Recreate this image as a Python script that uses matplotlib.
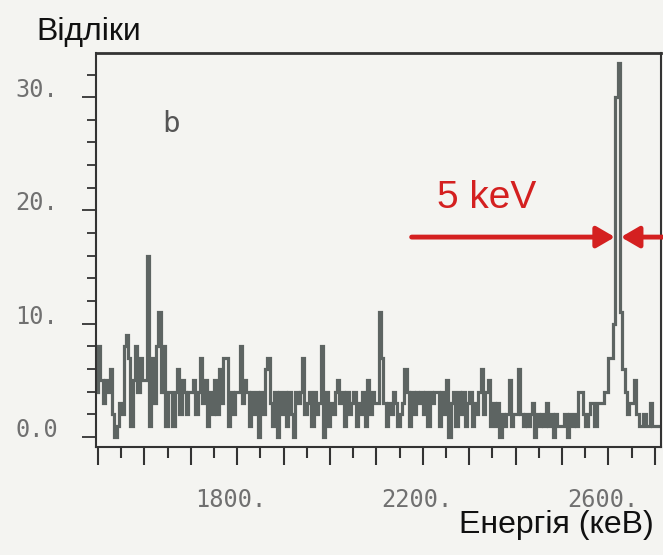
import numpy as np
import matplotlib
matplotlib.use("Agg")
import matplotlib.pyplot as plt
from matplotlib.patches import FancyArrowPatch

# ---------------- data ----------------
bin_start_keV = 1495
bin_width_keV = 5
counts = [
    4, 8, 5, 3, 5, 4, 6, 2, 0, 1, 3,        # 1495-1545
    2, 8, 9, 7, 1, 5, 8, 4, 7, 5,           # 1550-1595
    5, 16, 1, 7, 3, 8, 11, 4, 8, 1,         # 1600-1645
    4, 4, 1, 4, 6, 2, 5, 4, 2, 4,           # 1650-1695
    4, 5, 2, 4, 7, 3, 5, 1, 4, 2,           # 1700-1745
    5, 2, 6, 3, 7, 7, 1, 4, 2, 4,           # 1750-1795
    4, 8, 3, 5, 4, 1, 4, 2, 4, 0,           # 1800-1845
    4, 2, 6, 7, 3, 1, 4, 0, 4, 2,           # 1850-1895
    4, 1, 4, 2, 0, 4, 3, 4, 7, 2,           # 1900-1945
    3, 4, 1, 4, 2, 3, 8, 0, 4, 1,           # 1950-1995
    3, 2, 4, 5, 3, 4, 1, 4, 2, 3,           # 2000-2045
    4, 1, 3, 2, 4, 1, 5, 2, 4, 3,           # 2050-2095
    3, 11, 7, 3, 1, 3, 2, 4, 3, 1,          # 2100-2145
    2, 3, 6, 4, 1, 4, 2, 4, 3, 4,           # 2150-2195
    2, 4, 1, 4, 3, 4, 4, 1, 4, 2,           # 2200-2245
    5, 0, 3, 4, 1, 4, 2, 4, 1, 3,           # 2250-2295
    4, 1, 3, 2, 4, 6, 2, 4, 5, 1,           # 2300-2345
    3, 1, 3, 0, 2, 1, 2, 5, 1, 2,           # 2350-2395
    2, 6, 2, 1, 2, 1, 2, 3, 0, 2,           # 2400-2445
    1, 2, 1, 3, 1, 2, 0, 2, 1, 1,           # 2450-2495
    1, 2, 0, 2, 1, 2, 1, 4, 4, 2,           # 2500-2545
    1, 2, 3, 3, 1, 3, 3, 3, 4, 4,           # 2550-2595
    7, 7, 10, 30, 33, 11, 6, 4, 2, 3,       # 2600-2645
    3, 5, 2, 1, 1, 2, 1, 1, 3, 1,           # 2650-2695
    1, 1, 1,                                # 2700-2710
]
x_major = [1500, 1600, 1700, 1800, 1900, 2000, 2100, 2200, 2300, 2400, 2500, 2600, 2700]
x_minor = [1550, 1650, 1750, 1850, 1950, 2050, 2150, 2250, 2350, 2450, 2550, 2650]
x_labeled = [1800, 2200, 2600]
x_labels = ["1800.", "2200.", "2600."]
y_major = [0, 10, 20, 30]
y_labels = ["0.0", "10.", "20.", "30."]
y_minor = [2, 4, 6, 8, 12, 14, 16, 18, 22, 24, 26, 28, 32]
fwhm_left_keV = 2614
fwhm_right_keV = 2627
arrow_level = 17.65
arrow_left_start = 2176
arrow_right_start = 2722

# ---------------- drawing ----------------
BG = "#f4f4f1"
RED = "#d42020"
TICKC = "#333333"
LABC = "#707070"

fig = plt.figure(figsize=(6.63, 5.55), dpi=100)
fig.patch.set_facecolor(BG)
W, H = 663, 555
ax = fig.add_axes([96 / W, 1 - 447 / H, (661 - 96) / W, (447 - 53) / H])
ax.set_facecolor(BG)

edges = bin_start_keV + bin_width_keV * np.arange(len(counts) + 1)
ax.stairs(counts, edges, baseline=None, color="#5d6462", lw=2.3)

ax.set_xlim(1495.7, 2713.4)
ax.set_ylim(-0.88, 33.9)

ax.set_xticks(x_major)
ax.set_xticks(x_minor, minor=True)
ax.set_yticks(y_major)
ax.set_yticks(y_minor, minor=True)
ax.tick_params(axis="x", which="major", length=13, width=1.5, color=TICKC,
               direction="out", labelbottom=False)
ax.tick_params(axis="x", which="minor", length=8, width=1.5, color=TICKC,
               direction="out")
ax.tick_params(axis="y", which="major", length=10, width=1.3, color=TICKC,
               direction="out", labelleft=False)
ax.tick_params(axis="y", which="minor", length=6.5, width=1.3, color=TICKC,
               direction="out")
for side in ["left", "right", "top", "bottom"]:
    ax.spines[side].set_color("#333333")
    ax.spines[side].set_linewidth(1.5)
ax.spines["top"].set_linewidth(2.0)

mono = "DejaVu Sans Mono"
for v, s in zip(y_major, y_labels):
    ax.annotate(s, xy=(0, v), xycoords=("axes fraction", "data"),
                xytext=(-27.4, 0), textcoords="offset points",
                ha="right", va="baseline", family=mono, fontsize=17, color=LABC)
for v, s in zip(x_labeled, x_labels):
    ax.annotate(s, xy=(v, 0), xycoords=("data", "axes fraction"),
                xytext=(-4.3, -29.5), textcoords="offset points",
                ha="center", va="top", family=mono, fontsize=17, color=LABC)

ax.text(0.118, 0.80, "b", transform=ax.transAxes, family=mono, fontsize=21,
        color="#555555", ha="left", va="baseline")

fig.text(36 / W, 1 - 40 / H, "Відліки", family="Liberation Sans", fontsize=23,
         color="#111111", ha="left", va="baseline")
fig.text(459 / W, 1 - 533 / H, "Енергія (кеВ)", family="Liberation Sans",
         fontsize=23, color="#111111", ha="left", va="baseline")

ax.text(2230, 20.2, "5 keV", color=RED, family="Liberation Sans", fontsize=28,
        ha="left", va="baseline")

for start, tip in [(arrow_left_start, fwhm_left_keV), (arrow_right_start, fwhm_right_keV)]:
    arr = FancyArrowPatch((start, arrow_level), (tip, arrow_level),
                          arrowstyle="-|>,head_length=0.55,head_width=0.32",
                          mutation_scale=20, lw=3.5, color=RED,
                          shrinkA=0, shrinkB=0, clip_on=False, zorder=5)
    ax.add_patch(arr)

fig.savefig("out.png", dpi=100, facecolor=BG)
